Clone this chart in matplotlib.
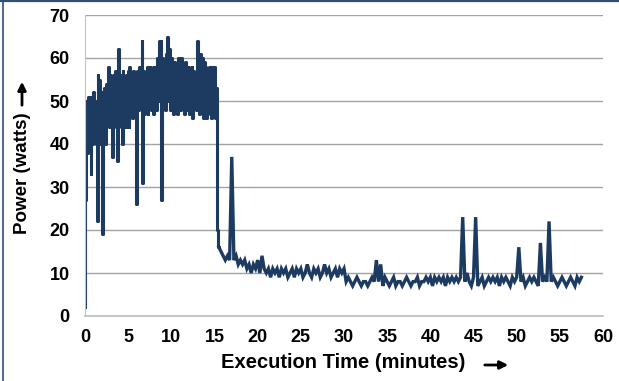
import numpy as np
import matplotlib
matplotlib.use("Agg")
import matplotlib.pyplot as plt
from matplotlib.lines import Line2D
from matplotlib.patches import FancyArrowPatch

# ---- data ----
# busy phase: one sample every 0.1 minute, starting at t = 0
power_busy = [
    2, 27, 50, 38, 51, 42, 50, 33, 51, 40,
    52, 44, 50, 40, 22, 56, 44, 55, 40, 52,
    19, 52, 43, 53, 40, 54, 45, 58, 44, 56,
    46, 55, 37, 56, 45, 57, 44, 55, 36, 62,
    48, 56, 44, 40, 57, 46, 55, 44, 56, 44,
    57, 44, 58, 47, 56, 46, 57, 48, 55, 47,
    26, 57, 48, 58, 49, 56, 64, 31, 57, 47,
    56, 48, 58, 47, 57, 49, 58, 48, 56, 47,
    58, 49, 57, 48, 60, 50, 64, 52, 64, 27,
    60, 49, 58, 48, 61, 50, 65, 52, 62, 48,
    60, 50, 58, 47, 59, 49, 57, 47, 60, 50,
    58, 48, 60, 49, 57, 47, 59, 49, 57, 48,
    58, 47, 56, 48, 58, 46, 57, 49, 56, 48,
    64, 50, 58, 47, 61, 49, 60, 46, 59, 48,
    58, 46, 57, 50, 58, 47, 56, 46, 58, 48,
    58, 46, 53, 20, 17, 16,
]
busy_step = 0.1

# idle phase: one sample every 0.25 minute, starting at t = 15.75
power_idle = [
    15, 14, 13, 14, 13, 37, 13, 14, 12, 13,      # 15.75 - 18.0
    12, 13, 11, 12, 10, 12, 11, 13, 10, 14,      # 18.25 - 20.5
    11, 10, 11, 9, 11, 10, 11, 9, 11, 10,        # 20.75 - 23.0
    11, 9, 10, 11, 9, 11, 10, 11, 9, 10,         # 23.25 - 25.5
    12, 10, 9, 11, 10, 11, 9, 10, 12, 10,        # 25.75 - 28.0
    11, 9, 10, 11, 9, 11, 10, 11, 8, 9,          # 28.25 - 30.5
    8, 7, 8, 9, 8, 7, 8, 8, 7, 8,                # 30.75 - 33.0
    9, 8, 13, 8, 12, 7, 9, 8, 7, 8,              # 33.25 - 35.5
    9, 7, 8, 8, 7, 8, 9, 8, 7, 8,                # 35.75 - 38.0
    8, 9, 7, 8, 8, 9, 8, 9, 7, 9,                # 38.25 - 40.5
    8, 9, 8, 9, 7, 9, 8, 9, 8, 9,                # 40.75 - 43.0
    8, 9, 23, 8, 10, 8, 7, 9, 23, 7,             # 43.25 - 45.5
    8, 9, 7, 8, 9, 8, 9, 8, 9, 7,                # 45.75 - 48.0
    9, 8, 9, 8, 7, 9, 8, 9, 16, 8,               # 48.25 - 50.5
    9, 7, 8, 9, 8, 9, 8, 7, 17, 8,               # 50.75 - 53.0
    9, 8, 22, 8, 9, 8, 7, 8, 9, 8,               # 53.25 - 55.5
    7, 8, 9, 8, 7, 9, 8, 9,                      # 55.75 - 57.5
]
idle_start = 15.75
idle_step = 0.25

x_ticks = [0, 5, 10, 15, 20, 25, 30, 35, 40, 45, 50, 55, 60]
y_ticks = [0, 10, 20, 30, 40, 50, 60, 70]
x_label = "Execution Time (minutes)"
y_label = "Power (watts)"

# ---- build series ----
t_busy = np.arange(len(power_busy)) * busy_step
t_idle = idle_start + np.arange(len(power_idle)) * idle_step

# ---- figure ----
W, H = 619, 381
fig = plt.figure(figsize=(W / 100, H / 100), dpi=100)
fig.patch.set_facecolor("white")
fam = ["Liberation Sans", "DejaVu Sans"]
navy = "#1d3a61"

ax = fig.add_axes([85 / W, 1 - 316 / H, (603 - 85) / W, (316 - 15) / H])
ax.plot(t_busy, power_busy, color=navy, lw=2.2, drawstyle="steps-mid")
ax.plot(np.concatenate([t_busy[-1:], t_idle]),
        np.concatenate([power_busy[-1:], power_idle]),
        color=navy, lw=2.4, solid_joinstyle="miter")

ax.set_xlim(0, 60)
ax.set_ylim(0, 70)
ax.set_xticks(x_ticks)
ax.set_yticks(y_ticks)
ax.set_xticklabels([str(v) for v in x_ticks], fontsize=13, fontweight="bold", family=fam)
ax.set_yticklabels([str(v) for v in y_ticks], fontsize=13, fontweight="bold", family=fam)
ax.tick_params(axis="both", length=0)
ax.tick_params(axis="y", pad=11)
ax.tick_params(axis="x", pad=9)

ax.grid(axis="y", color="#a3a3a3", lw=1.0)
ax.set_axisbelow(True)
for s in ["top", "right"]:
    ax.spines[s].set_visible(False)
ax.spines["left"].set_color("#c4c4c4")
ax.spines["bottom"].set_color("#bdbdbd")
ax.spines["bottom"].set_linewidth(1.2)

# axis titles
fig.text(343 / W, 1 - 363 / H, x_label, ha="center", va="center",
         fontsize=14.5, fontweight="bold", family=fam)
fig.add_artist(FancyArrowPatch((482 / W, 1 - 365 / H), (511 / W, 1 - 365 / H),
                               transform=fig.transFigure, arrowstyle="-|>",
                               mutation_scale=12, lw=2.0, color="black"))
fig.text(23 / W, 1 - 173 / H, y_label, ha="center", va="center", rotation=90,
         fontsize=13.5, fontweight="bold", family=fam)
fig.add_artist(FancyArrowPatch((22 / W, 1 - 108 / H), (22 / W, 1 - 79 / H),
                               transform=fig.transFigure, arrowstyle="-|>",
                               mutation_scale=12, lw=2.0, color="black"))

# frame lines (top and left)
fig.add_artist(Line2D([0, 1], [1 - 0.8 / H, 1 - 0.8 / H], transform=fig.transFigure,
                      color="#2f4f75", lw=1.6))
fig.add_artist(Line2D([2.5 / W, 2.5 / W], [0, 1], transform=fig.transFigure,
                      color="#2f4f75", lw=1.2))

fig.savefig("out.png", dpi=100)
